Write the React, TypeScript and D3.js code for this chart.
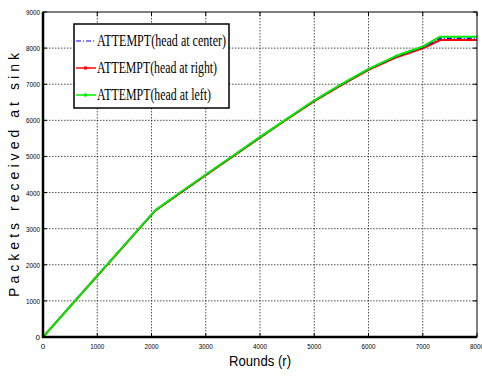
import React from 'react';
import * as d3 from 'd3';

// rounds (x) and packets received at sink (y) for each run
const rounds = [0, 1000, 2070, 2525, 3000, 3500, 4000, 4430, 5000, 5500, 6000, 6500, 7000, 7320, 8000];
const packetsCenter = [0, 1700, 3510, 3990, 4490, 5010, 5530, 5970, 6545, 6990, 7415, 7765, 8020, 8275, 8275];
const packetsRight = [0, 1690, 3500, 3980, 4480, 5000, 5520, 5960, 6530, 6975, 7400, 7740, 7995, 8225, 8225];
const packetsLeft = [0, 1700, 3515, 4000, 4500, 5020, 5540, 5980, 6555, 7000, 7425, 7780, 8045, 8318, 8318];

const seriesNames = ['ATTEMPT(head at center)', 'ATTEMPT(head at right)', 'ATTEMPT(head at left)'];
const xTicks = [0, 1000, 2000, 3000, 4000, 5000, 6000, 7000, 8000];
const yTicks = [0, 1000, 2000, 3000, 4000, 5000, 6000, 7000, 8000, 9000];

export default function App() {
  const width = 482;
  const height = 377;
  const margin = { top: 12, right: 5, bottom: 40, left: 43 };

  const x = d3.scaleLinear().domain([0, 8000]).range([margin.left, width - margin.right]);
  const y = d3.scaleLinear().domain([0, 9000]).range([height - margin.bottom, margin.top]);

  const line = d3.line<[number, number]>()
    .x(d => x(d[0]))
    .y(d => y(d[1]));

  const series = [
    { name: seriesNames[0], ys: packetsCenter, color: '#0000ff', dash: '5,2,1,2', w: 1.5 },
    { name: seriesNames[1], ys: packetsRight, color: '#ff0000', dash: '', w: 2 },
    { name: seriesNames[2], ys: packetsLeft, color: '#00ee00', dash: '', w: 2 },
  ];
  // red underneath, then blue, green on top
  const drawOrder = [1, 0, 2];

  const x0 = x(0), x1 = x(8000), y0 = y(0), y1 = y(9000);
  const tickFont = '"Liberation Sans Narrow", "Liberation Sans", Arial, sans-serif';

  return (
    <svg width={width} height={height} style={{ position: 'absolute', left: 0, top: 0, background: '#fff' }}>
      {/* grid */}
      {xTicks.slice(1, -1).map(t => (
        <line key={'gx' + t} x1={x(t)} x2={x(t)} y1={y1} y2={y0} stroke="#222" strokeWidth={0.8} strokeDasharray="1.5,1.5" />
      ))}
      {yTicks.slice(1, -1).map(t => (
        <line key={'gy' + t} x1={x0} x2={x1} y1={y(t)} y2={y(t)} stroke="#222" strokeWidth={0.8} strokeDasharray="1.5,1.5" />
      ))}

      {/* series */}
      {drawOrder.map(i => {
        const s = series[i];
        const pts = rounds.map((v, k) => [v, s.ys[k]] as [number, number]);
        return (
          <path key={s.name} d={line(pts) || ''} fill="none" stroke={s.color} strokeWidth={s.w}
            strokeLinejoin="round" strokeDasharray={s.dash || undefined} />
        );
      })}

      {/* frame */}
      <rect x={x0} y={y1} width={x1 - x0} height={y0 - y1} fill="none" stroke="#000" strokeWidth={1} />
      <line x1={x0} x2={x0} y1={y1} y2={y0 + 1} stroke="#000" strokeWidth={2.5} />
      <line x1={x0 - 1} x2={x1} y1={y0} y2={y0} stroke="#000" strokeWidth={2.5} />

      {/* ticks */}
      {xTicks.map(t => (
        <g key={'tx' + t}>
          <line x1={x(t)} x2={x(t)} y1={y0} y2={y0 - 4} stroke="#000" />
          <line x1={x(t)} x2={x(t)} y1={y1} y2={y1 + 4} stroke="#000" />
          <text x={x(t)} y={y0 + 12} textAnchor="middle" fontSize={8} fontFamily={tickFont}
            textLength={t === 0 ? undefined : 14} lengthAdjust="spacingAndGlyphs">{t}</text>
        </g>
      ))}
      {yTicks.map(t => (
        <g key={'ty' + t}>
          <line x1={x0} x2={x0 + 4} y1={y(t)} y2={y(t)} stroke="#000" />
          <line x1={x1} x2={x1 - 4} y1={y(t)} y2={y(t)} stroke="#000" />
          <text x={x0 - 3} y={y(t) + 3} textAnchor="end" fontSize={8} fontFamily={tickFont}
            textLength={t === 0 ? undefined : 14} lengthAdjust="spacingAndGlyphs">{t}</text>
        </g>
      ))}

      {/* axis labels */}
      <text x={260} y={366} textAnchor="middle" fontSize={15} fontFamily={tickFont}
        textLength={62} lengthAdjust="spacingAndGlyphs">Rounds (r)</text>
      <text transform={`translate(19,${175}) rotate(-90)`} textAnchor="middle" fontSize={14}
        fontFamily='"Liberation Sans", Arial, sans-serif' textLength={244} lengthAdjust="spacing">
        Packets received at sink
      </text>

      {/* legend */}
      <rect x={74} y={24} width={155} height={84} fill="#fff" stroke="#000" strokeWidth={1.5} />
      {series.map((s, i) => {
        const ly = 41 + i * 27;
        return (
          <g key={'lg' + i}>
            <line x1={76} x2={96} y1={ly} y2={ly} stroke={s.color} strokeWidth={s.dash ? 1.2 : 1.5}
              strokeDasharray={s.dash || undefined} />
            {!s.dash && <rect x={84} y={ly - 1.5} width={3} height={3} fill={s.color} />}
            <text x={97} y={ly + 5} fontSize={16} fontFamily='"Liberation Serif", "Times New Roman", serif'
              textLength={i === 0 ? 129 : i === 1 ? 120 : 114} lengthAdjust="spacingAndGlyphs">{s.name}</text>
          </g>
        );
      })}
    </svg>
  );
}
